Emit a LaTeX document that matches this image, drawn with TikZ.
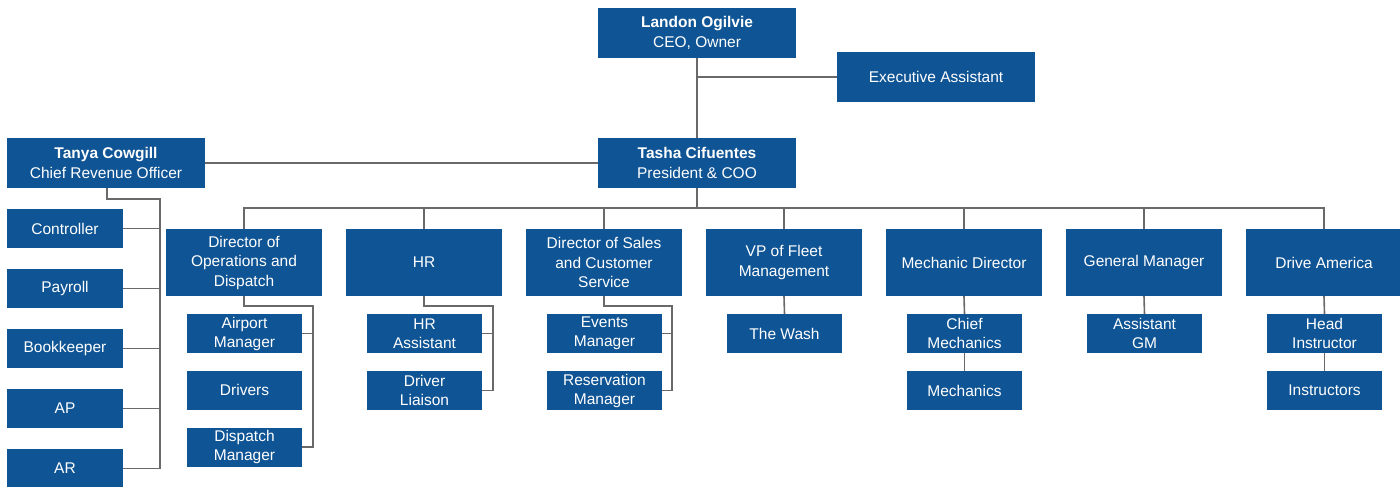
\documentclass[tikz,border=0pt]{standalone}
\usepackage{fontspec}
\setmainfont{Liberation Sans}
\definecolor{boxblue}{RGB}{15,84,148}
\definecolor{linegrey}{RGB}{105,105,105}
\begin{document}
\begin{tikzpicture}[x=1pt,y=-1pt,
  box/.style={fill=boxblue,text=white,align=center,inner sep=0pt,
    font=\fontsize{15.5}{19.5}\selectfont},
  bigbox/.style={box,minimum width=198pt,minimum height=50pt},
  midbox/.style={box,minimum width=156pt,minimum height=67pt},
  smallbox/.style={box,minimum width=115pt,minimum height=39pt,font=\fontsize{15.5}{19}\selectfont},
  leftbox/.style={box,minimum width=116pt,minimum height=39pt},
  conn/.style={draw=linegrey,line width=1.6pt}]
\useasboundingbox (0,0) rectangle (1400,487);
% top level
\node[bigbox] (ceo) at (697,33) {\textbf{Landon Ogilvie}\\CEO, Owner};
\node[bigbox] (ea) at (936,77) {Executive Assistant};
\node[bigbox] (tasha) at (697,163) {\textbf{Tasha Cifuentes}\\President \& COO};
\node[bigbox] (tanya) at (106,163) {\textbf{Tanya Cowgill}\\Chief Revenue Officer};
% Tanya's reports
\node[leftbox] (ctrl) at (65,228.5) {Controller};
\node[leftbox] (pay) at (65,288.5) {Payroll};
\node[leftbox] (book) at (65,348.5) {Bookkeeper};
\node[leftbox] (ap) at (65,408.5) {AP};
\node[leftbox] (ar) at (65,468.5) {AR};
% row 2
\node[midbox] (ops) at (244,262.5) {Director of\\Operations and\\Dispatch};
\node[midbox] (hr) at (424,262.5) {HR};
\node[midbox] (sales) at (604,262.5) {Director of Sales\\and Customer\\Service};
\node[midbox] (fleet) at (784,262.5) {VP of Fleet\\Management};
\node[midbox] (mech) at (964,262.5) {Mechanic Director};
\node[midbox] (gm) at (1144,262.5) {General Manager};
\node[midbox] (da) at (1324,262.5) {Drive America};
% row 3
\node[smallbox] (air) at (244.5,333.5) {Airport\\Manager};
\node[smallbox] (drv) at (244.5,390) {Drivers};
\node[smallbox] (disp) at (244.5,447) {Dispatch\\Manager};
\node[smallbox] (hra) at (424.5,333.5) {HR\\Assistant};
\node[smallbox] (dl) at (424.5,390.5) {Driver\\Liaison};
\node[smallbox] (ev) at (604.5,333.5) {Events\\Manager};
\node[smallbox] (res) at (604.5,390.5) {Reservation\\Manager};
\node[smallbox] (wash) at (784.5,333.5) {The Wash};
\node[smallbox] (cm) at (964.5,333.5) {Chief\\Mechanics};
\node[smallbox] (mcs) at (964.5,390.5) {Mechanics};
\node[smallbox] (agm) at (1144.5,333.5) {Assistant\\GM};
\node[smallbox] (hi) at (1324.5,333.5) {Head\\Instructor};
\node[smallbox] (ins) at (1324.5,390.5) {Instructors};
% coordinates
\coordinate (tbus) at (160,199);
\coordinate (bus) at (697,208);
\coordinate (opsr) at (313,306);
\coordinate (hrr) at (493,306);
\coordinate (salr) at (672,306);
% connectors
\begin{scope}[on background layer/.try]
\draw[conn] (ceo.south) -- (tasha.north);
\draw[conn] (ea.west) -- (ea.west -| ceo.south);
\draw[conn] (tanya.east) -- (tasha.west);
\draw[conn] (tanya.south -| 107,0) |- (tbus) |- (ar.east);
\foreach \n in {ctrl,pay,book,ap} \draw[conn] (\n.east) -- (\n.east -| tbus);
\draw[conn] (tasha.south) -- (bus);
\draw[conn] (ops.north) |- (bus) -| (da.north);
\foreach \n in {hr,sales,fleet,mech,gm} \draw[conn] (\n.north) -- (\n.north |- bus);
\draw[conn] (ops.south) |- (opsr) |- (disp.east);
\draw[conn] (air.east) -- (air.east -| opsr);
\draw[conn] (hr.south) |- (hrr) |- (dl.east);
\draw[conn] (hra.east) -- (hra.east -| hrr);
\draw[conn] (sales.south) |- (salr) |- (res.east);
\draw[conn] (ev.east) -- (ev.east -| salr);
\draw[conn] (fleet.south) -- (wash.north);
\draw[conn] (mech.south) -- (cm.north);
\draw[conn] (cm.south) -- (mcs.north);
\draw[conn] (gm.south) -- (agm.north);
\draw[conn] (da.south) -- (hi.north);
\draw[conn] (hi.south) -- (ins.north);
\end{scope}
\end{tikzpicture}
\end{document}
